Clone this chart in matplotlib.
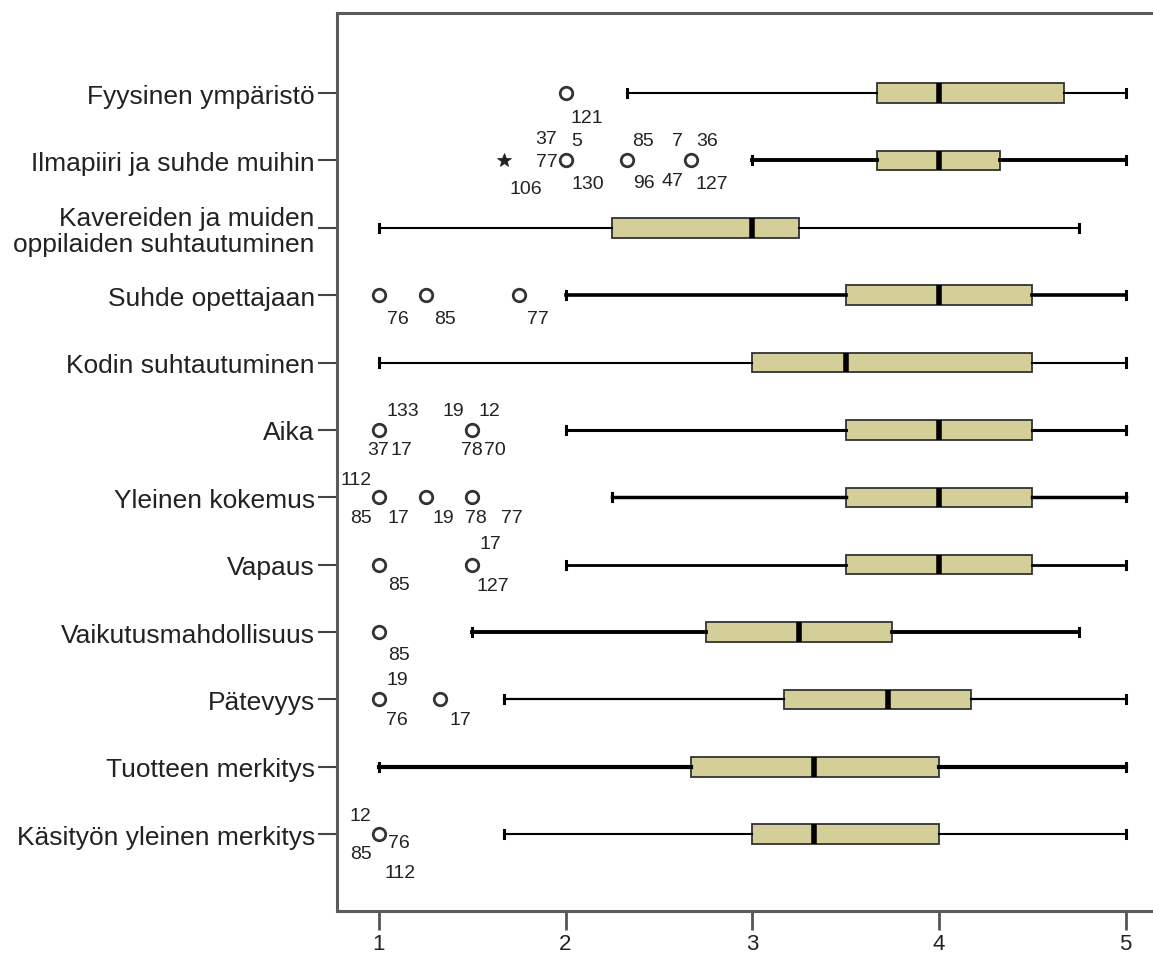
import matplotlib
matplotlib.use("Agg")
import matplotlib.pyplot as plt

plt.rcParams['font.family'] = ['Liberation Sans', 'DejaVu Sans']

# Box statistics, one entry per variable (top to bottom)
categories = [
    "Fyysinen ympäristö",
    "Ilmapiiri ja suhde muihin",
    "Kavereiden ja muiden\noppilaiden suhtautuminen",
    "Suhde opettajaan",
    "Kodin suhtautuminen",
    "Aika",
    "Yleinen kokemus",
    "Vapaus",
    "Vaikutusmahdollisuus",
    "Pätevyys",
    "Tuotteen merkitys",
    "Käsityön yleinen merkitys",
]
whislo = [2.33, 3.0, 1.0, 2.0, 1.0, 2.0, 2.25, 2.0, 1.5, 1.67, 1.0, 1.67]
q1 = [3.67, 3.67, 2.25, 3.5, 3.0, 3.5, 3.5, 3.5, 2.75, 3.17, 2.67, 3.0]
median = [4.0, 4.0, 3.0, 4.0, 3.5, 4.0, 4.0, 4.0, 3.25, 3.73, 3.33, 3.33]
q3 = [4.67, 4.33, 3.25, 4.5, 4.5, 4.5, 4.5, 4.5, 3.75, 4.17, 4.0, 4.0]
whishi = [5.0, 5.0, 4.75, 5.0, 5.0, 5.0, 5.0, 5.0, 4.75, 5.0, 5.0, 5.0]

# Outliers: row index, value, extreme flag, case numbers
outlier_rows = [0, 1, 1, 1, 1, 3, 3, 3, 5, 5, 6, 6, 6, 7, 7, 8, 9, 9, 11]
outlier_values = [2.0, 1.67, 2.0, 2.33, 2.67, 1.0, 1.25, 1.75, 1.0, 1.5,
                  1.0, 1.25, 1.5, 1.0, 1.5, 1.0, 1.0, 1.33, 1.0]
outlier_extreme = [False, True, False, False, False, False, False, False, False, False,
                   False, False, False, False, False, False, False, False, False]
outlier_ids = [
    ["121"], ["106"], ["37", "5", "77", "130"], ["85", "96"], ["7", "36", "47", "127"],
    ["76"], ["85"], ["77"],
    ["133", "37", "17"], ["19", "12", "78", "70"],
    ["112", "85", "17"], ["19"], ["78", "77"],
    ["85"], ["17", "127"],
    ["85"],
    ["19", "76"], ["17"],
    ["12", "76", "85", "112"],
]

# label placement around each outlier marker (pixels: right, down)
label_offsets = [
    [(21, 24)], [(22, 28)], [(-19, -22), (11, -20), (-19, 1), (22, 23)],
    [(16, -20), (17, 22)], [(-13, -20), (17, -20), (-18, 20), (21, 23)],
    [(19, 23)], [(19, 23)], [(19, 23)],
    [(24, -19), (-1, 20), (23, 20)], [(-19, -19), (17, -19), (0, 20), (23, 20)],
    [(-23, -18), (-18, 20), (20, 20)], [(18, 20)], [(4, 20), (40, 20)],
    [(20, 20)], [(18, -21), (21, 21)],
    [(20, 22)],
    [(18, -20), (18, 20)], [(20, 20)],
    [(-18, -19), (20, 8), (-18, 19), (21, 38)],
]
whisker_lw = [1.5, 2.8, 1.5, 2.6, 1.5, 2.2, 2.5, 2.0, 2.8, 1.6, 3.0, 1.5]

fig = plt.figure(figsize=(11.53, 9.54), dpi=100)
ax = fig.add_axes([0.2923, 0.044, 0.7077, 0.9413])

positions = list(range(1, len(categories) + 1))
stats = []
for i in range(len(categories)):
    stats.append(dict(whislo=whislo[i], q1=q1[i], med=median[i], q3=q3[i],
                      whishi=whishi[i], fliers=[], label=categories[i]))

parts = ax.bxp(stats, positions=positions, orientation='horizontal', widths=0.29,
               capwidths=0.12, showfliers=False, patch_artist=True,
               boxprops=dict(facecolor='#D4CF98', edgecolor='#333333', linewidth=1.3),
               medianprops=dict(color='black', linewidth=4, solid_capstyle='butt'),
               whiskerprops=dict(color='black'),
               capprops=dict(color='black', linewidth=2.2))

for i in range(len(categories)):
    parts['whiskers'][2 * i].set_linewidth(whisker_lw[i])
    parts['whiskers'][2 * i + 1].set_linewidth(whisker_lw[i])

for k in range(len(outlier_rows)):
    y = positions[outlier_rows[k]]
    x = outlier_values[k]
    if outlier_extreme[k]:
        ax.plot(x, y, marker='*', ms=10, color='#222222', mew=0.5, linestyle='none')
    else:
        ax.plot(x, y, marker='o', ms=9, mfc='none', mec='#333333', mew=2,
                linestyle='none')
    for lab, (dx, dy) in zip(outlier_ids[k], label_offsets[k]):
        ax.annotate(lab, (x, y), xytext=(dx, -dy), textcoords='offset pixels',
                    ha='center', va='center', fontsize=14, color='#222222')

ax.set_xlim(0.776, 5.147)
ax.set_ylim(13.14, -0.187)
ax.set_xticks([1, 2, 3, 4, 5])
ax.set_xticklabels(['1', '2', '3', '4', '5'], fontsize=16, color='#222222')
ax.set_yticks(positions)
ax.set_yticklabels(categories, fontsize=19, color='#222222', linespacing=1.1)
ax.tick_params(axis='x', length=14, width=2, color='#555555', pad=2)
ax.tick_params(axis='y', length=14, width=1.5, color='#444444', pad=2)

for side in ['top', 'left', 'bottom']:
    ax.spines[side].set_color('#5a5a5a')
    ax.spines[side].set_linewidth(2.2)
ax.spines['right'].set_visible(False)

fig.savefig('out.png', dpi=100)
